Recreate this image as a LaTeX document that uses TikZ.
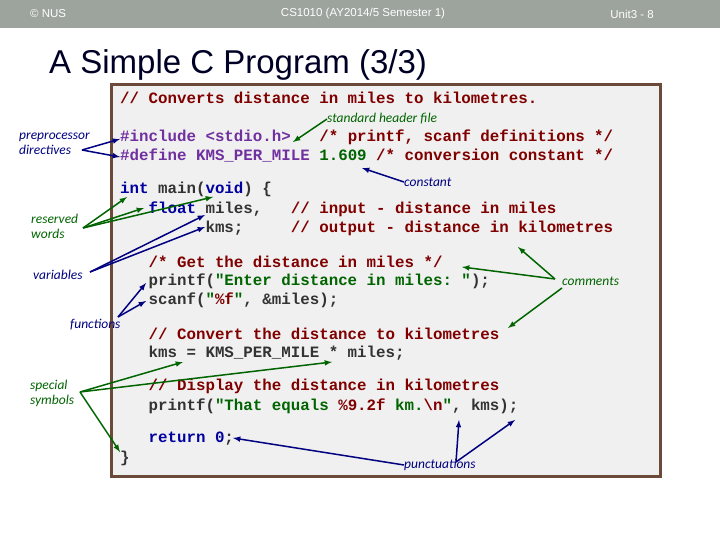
\documentclass[tikz,border=0pt]{standalone}
\usepackage{fontspec}
\setmainfont{Liberation Sans}
\setmonofont{Liberation Mono}
\newfontfamily\lblfont{Carlito}
\definecolor{cmt}{HTML}{800000}
\definecolor{pre}{HTML}{7030A0}
\definecolor{kw}{HTML}{0000A0}
\definecolor{str}{HTML}{006400}
\definecolor{nrm}{HTML}{333333}
\definecolor{navy}{HTML}{000080}
\definecolor{grn}{HTML}{006400}
\definecolor{bar}{HTML}{9DA39D}
\definecolor{boxf}{HTML}{F0F0F0}
\definecolor{boxd}{HTML}{6B4A3A}
\begin{document}
\begin{tikzpicture}[x=1pt,y=-1pt,
  code/.style={anchor=west,inner sep=0,font=\ttfamily\bfseries\fontsize{15.8}{18}\selectfont,text=nrm},
  lbl/.style={inner sep=0,font=\lblfont\itshape\fontsize{13.5}{15}\selectfont},
  barlbl/.style={inner sep=0,text=white,font=\fontsize{11.5}{13}\selectfont},
  na/.style={navy,line width=1.5pt,-latex},
  ga/.style={grn,line width=1.5pt,-latex}]
\useasboundingbox (0,0) rectangle (720,540);
\fill[white] (0,0) rectangle (720,540);
\fill[bar] (0,0) rectangle (720,28);
\node[barlbl,anchor=west] (nus) at (30,14) {© NUS};
\node[barlbl] (course) at (363,14) {CS1010 (AY2014/5 Semester 1)};
\node[barlbl,anchor=east] (unit) at (654,14) {Unit3 - 8};
\node[anchor=west,inner sep=0,font=\fontsize{33}{36}\selectfont,text=black!85!blue] (title) at (49,65) {A Simple C Program (3/3)};
\draw[boxd,line width=3pt,fill=boxf] (111,85) rectangle (660,476);

\node[code] (l1) at (120,98) {\color{cmt}// Converts distance in miles to kilometres.};
\node[code] (l2) at (120,137) {\color{pre}\#include <stdio.h>\ \ \ \color{cmt}/* printf, scanf definitions */};
\node[code] (l3) at (120,156) {\color{pre}\#define KMS\_PER\_MILE \color{str}1.609 \color{cmt}/* conversion constant */};
\node[code] (l4) at (120,189) {{\color{kw}int} main({\color{kw}void}) \{};
\node[code] (l5) at (120,209) {\ \ \ {\color{kw}float} miles,\ \ \ {\color{cmt}// input - distance in miles}};
\node[code] (l6) at (120,228) {\ \ \ \ \ \ \ \ \ kms;\ \ \ \ \ {\color{cmt}// output - distance in kilometres}};
\node[code] (l7) at (120,262) {\ \ \ \color{cmt}/* Get the distance in miles */};
\node[code] (l8) at (120,281) {\ \ \ printf({\color{str}"Enter distance in miles: "});};
\node[code] (l9) at (120,300) {\ \ \ scanf({\color{str}"{\color{cmt}\%f}"}, \&miles);};
\node[code] (l10) at (120,334) {\ \ \ \color{cmt}// Convert the distance to kilometres};
\node[code] (l11) at (120,353) {\ \ \ kms = KMS\_PER\_MILE * miles;};
\node[code] (l12) at (120,386) {\ \ \ \color{cmt}// Display the distance in kilometres};
\node[code] (l13) at (120,406) {\ \ \ printf({\color{str}"That equals {\color{cmt}\%9.2f} km.{\color{cmt}\textbackslash n}"}, kms);};
\node[code] (l14) at (120,439) {\ \ \ {\color{kw}return 0};};
\node[code] (l15) at (120,458) {\}};

\node[lbl,navy,align=left,anchor=west] (pp) at (19,144) {preprocessor\\directives};
\node[lbl,grn,anchor=west] (shf) at (327,119) {standard header file};
\node[lbl,navy,anchor=west] (cst) at (404,182) {constant};
\node[lbl,grn,align=left,anchor=west] (rw) at (31,226) {reserved\\words};
\node[lbl,navy,anchor=west] (var) at (33,275) {variables};
\node[lbl,navy,anchor=west] (fn) at (70,325) {functions};
\node[lbl,grn,align=left,anchor=west] (ss) at (30,393) {special\\symbols};
\node[lbl,grn,anchor=west] (cm) at (562,281) {comments};
\node[lbl,navy,anchor=west] (pu) at (404,465) {punctuations};

\coordinate (t1) at (120,139); \coordinate (t2) at (120,157);
\coordinate (s0) at (82,150);
\draw[na] (s0) -- (t1); \draw[na] (s0) -- (t2);
\draw[ga] (shf.west) -- (293,142);
\draw[na] (cst.west) -- (362,168);
\coordinate (r0) at (83,228);
\draw[ga] (r0) -- (127,197); \draw[ga] (r0) -- (144,208); \draw[ga] (r0) -- (213,197);
\coordinate (v0) at (90,272);
\draw[na] (v0) -- (205,215); \draw[na] (v0) -- (205,227);
\coordinate (f0) at (118,317);
\draw[na] (f0) -- (146,283); \draw[na] (f0) -- (146,301);
\coordinate (p0) at (80,392);
\draw[ga] (p0) -- (183,362); \draw[ga] (p0) -- (332,362); \draw[ga] (p0) -- (120,452);
\draw[na] (pu.west) -- (233,438);
\coordinate (u0) at (456,462);
\draw[na] (u0) -- (459,420); \draw[na] (u0) -- (515,420);
\coordinate (c0) at (555,279); \coordinate (c1) at (562,288);
\draw[ga] (c0) -- (518,247); \draw[ga] (c0) -- (462,267); \draw[ga] (c1) -- (508,328);
\end{tikzpicture}
\end{document}
